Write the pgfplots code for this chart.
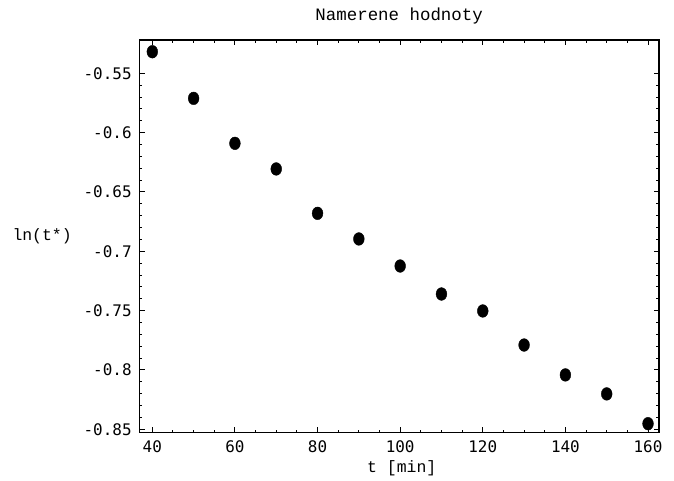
\documentclass[border=0pt]{standalone}
\usepackage{pgfplots}
\pgfplotsset{compat=1.18}
\usepackage{fontspec}
\newfontfamily\tickfont{DejaVu Sans Mono}
\newfontfamily\labfont{Liberation Mono}
\begin{document}
\begin{tikzpicture}
\path[use as bounding box] (0,0) rectangle (674bp,481bp);
\begin{axis}[
  at={(139.3bp,48.3bp)}, anchor=south west,
  scale only axis, width=519.7bp, height=392.7bp,
  xmin=36.85, xmax=162.66, ymin=-0.8529, ymax=-0.5219,
  axis line style={line width=1.5bp},
  tick style={line width=1bp, black},
  major tick length=5.5bp, minor tick length=3bp,
  tick align=inside,
  xtick={40,60,80,100,120,140,160},
  xticklabels={40,60,80,100,120,140,160},
  minor x tick num=3,
  ytick={-0.85,-0.8,-0.75,-0.7,-0.65,-0.6,-0.55},
  yticklabels={-0.85,-0.8,-0.75,-0.7,-0.65,-0.6,-0.55},
  minor y tick num=4,
  ticklabel style={font=\tickfont\fontsize{16}{16}\selectfont},
  xticklabel style={inner sep=2bp, yshift=-6bp},
  yticklabel style={inner sep=3bp, xshift=-4.5bp},
  title={Namerene hodnoty},
  title style={font=\labfont\fontsize{17.5}{18}\selectfont, at={(axis description cs:0.5,1.0466)}, anchor=center},
  xlabel={t [min]},
  xlabel style={font=\labfont\fontsize{16.5}{17}\selectfont, at={(axis description cs:0.505,-0.09)}, anchor=center},
  every axis y label/.style={font=\labfont\fontsize{16.5}{17}\selectfont, at={(axis description cs:-0.187,0.5)}, anchor=center},
  ylabel={ln(t*)},
]
\addplot[only marks, mark=*, mark size=5.4bp, mark options={yscale=1.18, fill=black, draw=black}] coordinates {
(40,-0.5318) (50,-0.5711) (60,-0.6090) (70,-0.6306) (80,-0.6680)
(90,-0.6896) (100,-0.7124) (110,-0.7360) (120,-0.7503) (130,-0.7790)
(140,-0.8042) (150,-0.8202) (160,-0.8453)
};
\end{axis}
\end{tikzpicture}
\end{document}
